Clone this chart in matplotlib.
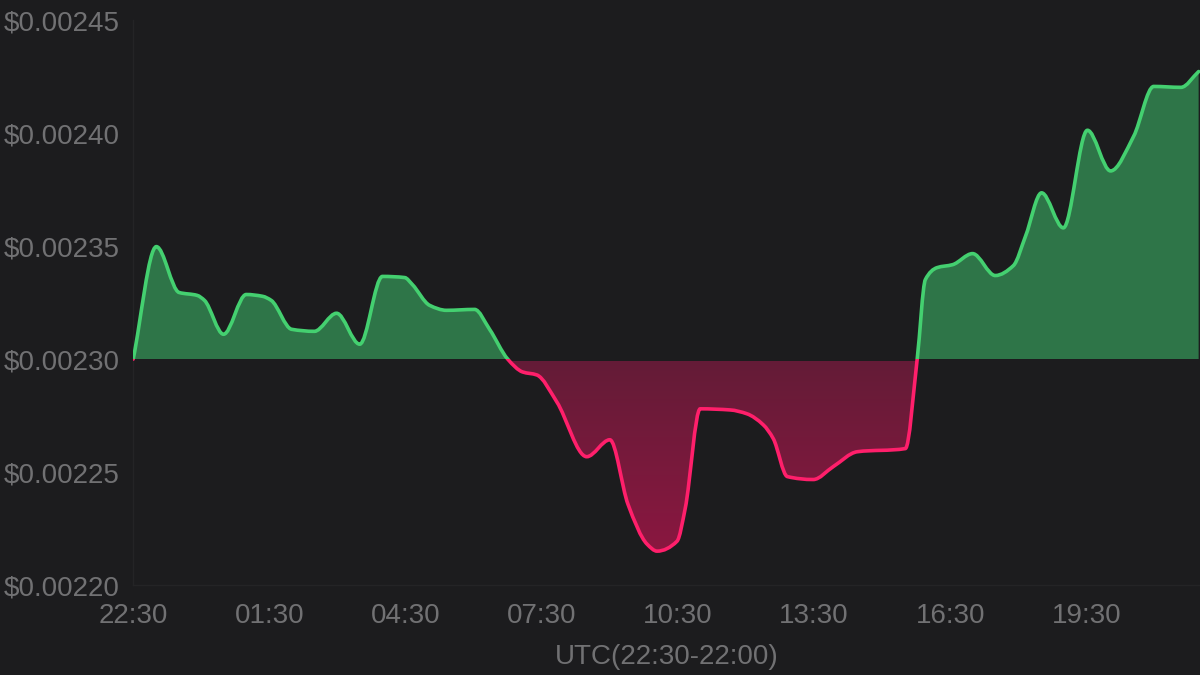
import numpy as np
import matplotlib.pyplot as plt
from matplotlib.path import Path
from matplotlib.patches import PathPatch, Rectangle
from matplotlib.colors import LinearSegmentedColormap

# hours after 22:30 UTC and price in USD
hours = [0.00, 0.51, 1.01, 1.41, 1.57, 1.99, 2.49, 2.85, 3.04, 3.49,
         3.99, 4.48, 4.99, 5.49, 5.98, 6.15, 6.53, 6.90, 7.52, 7.85,
         8.25, 8.58, 8.89, 9.33, 9.99, 10.50, 10.90, 11.32, 11.54, 11.98,
         12.16, 12.49, 13.15, 13.52, 13.88, 14.10, 14.41, 14.98, 15.42, 15.95,
         17.01, 17.27, 17.45, 17.71, 18.05, 18.49, 18.99, 19.39, 19.66, 20.01,
         20.49, 21.02, 21.53, 22.04, 22.48, 23.08, 23.47]
price = [0.0023000, 0.0023498, 0.0023295, 0.0023282, 0.0023260, 0.0023110,
         0.0023286, 0.0023278, 0.0023260, 0.0023132, 0.0023123, 0.0023203,
         0.0023066, 0.0023366, 0.0023361, 0.0023330, 0.0023238, 0.0023216,
         0.0023220, 0.0023132, 0.0023000, 0.0022943, 0.0022930, 0.0022811,
         0.0022568, 0.0022643, 0.0022357, 0.0022181, 0.0022150, 0.0022194,
         0.0022339, 0.0022780, 0.0022775, 0.0022758, 0.0022709, 0.0022648,
         0.0022480, 0.0022467, 0.0022524, 0.0022590, 0.0022604, 0.0023000,
         0.0023352, 0.0023405, 0.0023418, 0.0023467, 0.0023370, 0.0023414,
         0.0023546, 0.0023736, 0.0023581, 0.0024013, 0.0023833, 0.0023987,
         0.0024207, 0.0024203, 0.0024273]
base_price = 0.00230

tick_hours = [0, 3, 6, 9, 12, 15, 18, 21]
tick_labels = ['22:30', '01:30', '04:30', '07:30', '10:30', '13:30', '16:30', '19:30']
y_ticks = [0.00220, 0.00225, 0.00230, 0.00235, 0.00240, 0.00245]

BG = '#1c1c1e'
TEXT = '#717173'
GREEN_LINE = '#44d070'
GREEN_FILL = '#2e7548'
RED_LINE = '#ff1f6b'


def smooth_path(x, y):
    # monotone cubic through the points, as bezier segments
    x = np.asarray(x, float)
    y = np.asarray(y, float)
    dx = np.diff(x)
    s = np.diff(y) / dx
    m = np.zeros_like(y)
    m[0] = s[0]
    m[-1] = s[-1]
    for i in range(1, len(x) - 1):
        if s[i - 1] * s[i] <= 0:
            m[i] = 0
        else:
            w1 = 2 * dx[i] + dx[i - 1]
            w2 = dx[i] + 2 * dx[i - 1]
            m[i] = (w1 + w2) / (w1 / s[i - 1] + w2 / s[i])
    verts = [(x[0], y[0])]
    codes = [Path.MOVETO]
    for i in range(len(dx)):
        h = dx[i] / 3
        verts += [(x[i] + h, y[i] + m[i] * h),
                  (x[i + 1] - h, y[i + 1] - m[i + 1] * h),
                  (x[i + 1], y[i + 1])]
        codes += [Path.CURVE4] * 3
    return verts, codes


plt.rcParams['font.family'] = ['Liberation Sans', 'DejaVu Sans']

fig = plt.figure(figsize=(12, 6.75), dpi=100, facecolor=BG)
ax = fig.add_axes([0.111, 0.1333, 0.889, 0.8367])
ax.set_facecolor(BG)

xmin, xmax = 0, 23.5
ymin, ymax = 0.00220, 0.00245

verts, codes = smooth_path(hours, price)
fill_path = Path(verts + [(hours[-1], base_price), (hours[0], base_price)],
                 codes + [Path.LINETO, Path.CLOSEPOLY])

above = Rectangle((xmin, base_price), xmax - xmin, 0.001, transform=ax.transData)
below = Rectangle((xmin, 0.0020), xmax - xmin, base_price - 0.0020, transform=ax.transData)

# green area above the opening price
green_area = PathPatch(fill_path, facecolor=GREEN_FILL, edgecolor='none', zorder=2)
ax.add_patch(green_area)
green_area.set_clip_path(above)

# red area below, with a soft vertical gradient
red_shape = PathPatch(fill_path, facecolor='none', edgecolor='none')
ax.add_patch(red_shape)
red_cmap = LinearSegmentedColormap.from_list('red_fill', ['#8a1740', '#641c37'])
grad = ax.imshow(np.linspace(0, 1, 256).reshape(-1, 1), cmap=red_cmap, aspect='auto',
                 origin='lower', interpolation='bilinear',
                 extent=(xmin, xmax, min(price), base_price - 0.0000012), zorder=1)
grad.set_clip_path(red_shape)

line_path = Path(verts, codes)
up_line = PathPatch(line_path, fill=False, edgecolor=GREEN_LINE, lw=2.6,
                    capstyle='round', joinstyle='round', zorder=3)
ax.add_patch(up_line)
up_line.set_clip_path(above)
down_line = PathPatch(line_path, fill=False, edgecolor=RED_LINE, lw=2.6,
                      capstyle='round', joinstyle='round', zorder=3)
ax.add_patch(down_line)
down_line.set_clip_path(below)

ax.set_xlim(xmin, xmax)
ax.set_ylim(ymin, ymax)

ax.set_xticks(tick_hours)
ax.set_xticklabels(tick_labels)
ax.set_yticks(y_ticks)
ax.set_yticklabels(['$%.5f' % v for v in y_ticks])
ax.tick_params(axis='both', length=0, labelsize=20, labelcolor=TEXT)
ax.tick_params(axis='y', pad=10)
ax.tick_params(axis='x', pad=13)
ax.set_xlabel('UTC(22:30-22:00)', fontsize=20, color=TEXT, labelpad=11)

for side in ['top', 'right']:
    ax.spines[side].set_visible(False)
for side in ['left', 'bottom']:
    ax.spines[side].set_color('#242426')
    ax.spines[side].set_linewidth(1)

fig.savefig('out.png', dpi=100, facecolor=BG)
